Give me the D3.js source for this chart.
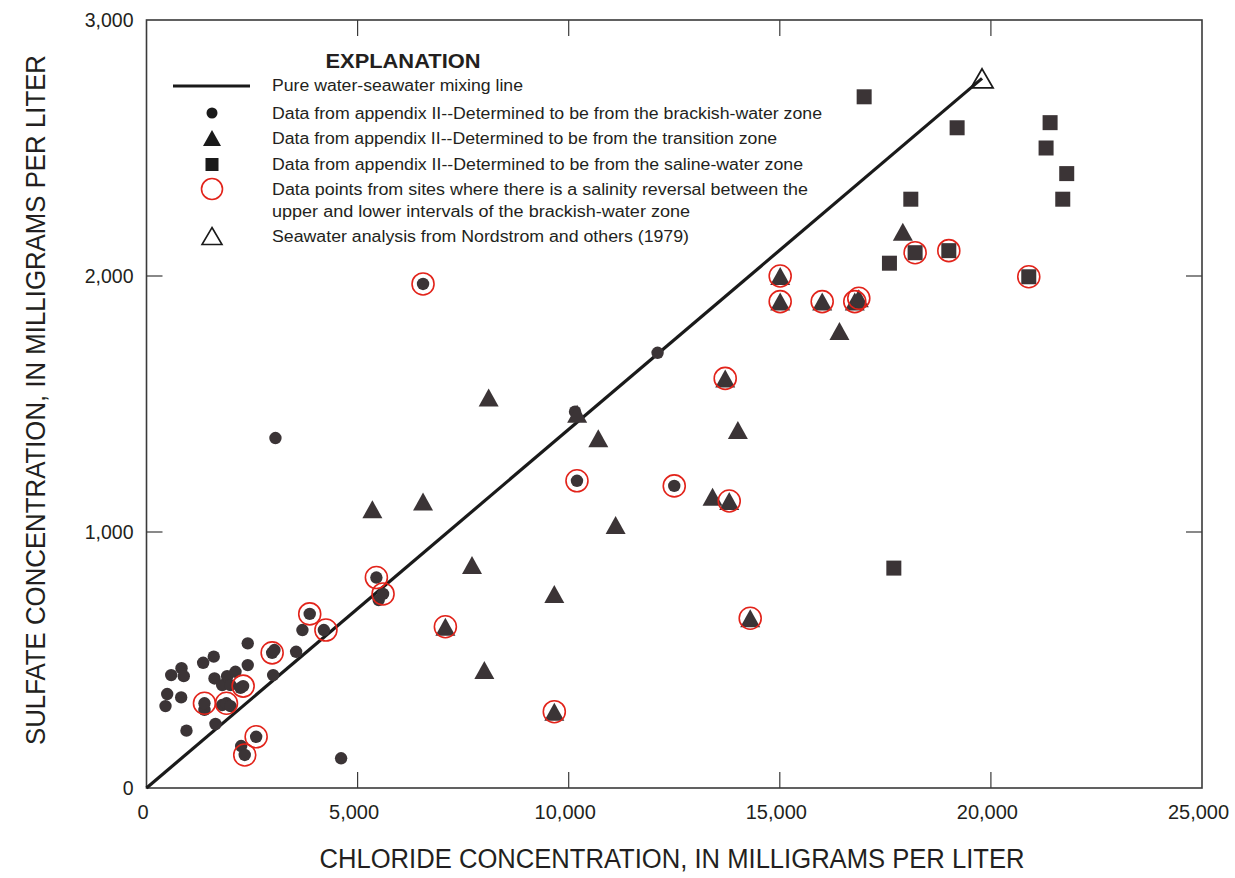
<!DOCTYPE html>
<html>
<head>
<meta charset="utf-8">
<script src="https://cdn.jsdelivr.net/npm/d3@7"></script>
<style>
  body { margin: 0; background: #fff; }
  text { font-family: "Liberation Sans", Arial, sans-serif; fill: #231f20; }
</style>
</head>
<body>
<div id="chart"></div>
<script>
// chloride, sulfate (mg/L)
var brackish = [
  [450,320],[490,367],[585,441],[829,468],[821,354],[883,437],[947,224],
  [1342,489],[1373,305],[1373,331],[1593,513],[1610,428],[1634,250],
  [1792,402],[1792,324],[1894,331],[1910,437],[1989,402],[1989,320],
  [2107,454],[2225,391],[2289,398],[2242,164],[2327,129],[2398,565],
  [2398,480],[2597,200],[2976,528],[3030,539],[3000,441],[3054,1367],
  [3544,532],[3693,617],[3866,680],[4200,617],[4609,116],[5445,822],
  [5500,734],[5603,758],[6550,1969],[10150,1470],[10196,1200],
  [12105,1700],[12500,1180]
];
var transition = [
  [5350,1089],[6550,1119],[7079,630],[7710,871],[8002,461],[8104,1525],
  [9659,758],[9659,298],[10200,1462],[10701,1366],[11111,1027],
  [13407,1138],[13707,1600],[13802,1121],[14007,1398],[14299,663],
  [15009,2000],[15009,1900],[16004,1900],[16413,1785],[16776,1900],
  [16871,1913],[17914,2173]
];
var saline = [
  [16998,2700],[17597,2050],[17701,859],[18103,2300],[18205,2091],
  [19003,2099],[19200,2579],[20897,1997],[21307,2500],[21402,2599],
  [21702,2300],[21796,2400]
];
// sites with a salinity reversal (red circles)
var reversal = [
  [1373,331],[1894,331],[2289,398],[2327,129],[2597,200],[2976,528],
  [3866,680],[4250,617],[5445,822],[5603,758],[6550,1969],[10196,1200],
  [12500,1180],[7079,630],[9659,298],[13707,1600],[13802,1121],
  [14299,663],[15009,2000],[15009,1900],[16004,1900],[16776,1900],
  [16871,1913],[18205,2091],[19003,2099],[20897,1997]
];
var seawater = [19790, 2772];
var xTicks = [0, 5000, 10000, 15000, 20000, 25000];
var yTicks = [0, 1000, 2000, 3000];

var width = 1235, height = 878;
var margin = {left: 146.5, right: 33, top: 20, bottom: 90};
var ink = "#3b3436";

var svg = d3.select("#chart").append("svg")
  .attr("width", width)
  .attr("height", height);

var x = d3.scaleLinear().domain([0, 25000]).range([margin.left, width - margin.right]);
var y = d3.scaleLinear().domain([0, 3000]).range([height - margin.bottom, margin.top]);
var fmt = d3.format(",");

// frame
svg.append("rect")
  .attr("x", x(0)).attr("y", y(3000))
  .attr("width", x(25000) - x(0)).attr("height", y(0) - y(3000))
  .attr("fill", "none").attr("stroke", "#3a3a3a").attr("stroke-width", 1.6);

var inner = xTicks.slice(1, -1);
var innerY = yTicks.slice(1, -1);

var xAxis = svg.append("g")
  .attr("transform", "translate(0," + y(0) + ")")
  .call(d3.axisBottom(x).tickValues(xTicks).tickFormat(fmt).tickSize(0).tickPadding(17));
xAxis.select(".domain").remove();
xAxis.selectAll("text").style("font-size", "20px").attr("dx", "-4");

var yAxis = svg.append("g")
  .attr("transform", "translate(" + x(0) + ",0)")
  .call(d3.axisLeft(y).tickValues(yTicks).tickFormat(fmt).tickSize(0).tickPadding(13));
yAxis.select(".domain").remove();
yAxis.selectAll("text").style("font-size", "19.5px");

// inward tick marks on all four sides
var tl = 16;
function tickLines(vals, fn) {
  svg.append("g").selectAll("line").data(vals).enter().append("line")
    .each(fn)
    .attr("stroke", "#3a3a3a").attr("stroke-width", 1.2);
}
tickLines(inner, function(d) { d3.select(this).attr("x1", x(d)).attr("x2", x(d)).attr("y1", y(0)).attr("y2", y(0) - tl); });
tickLines(inner, function(d) { d3.select(this).attr("x1", x(d)).attr("x2", x(d)).attr("y1", y(3000)).attr("y2", y(3000) + tl); });
tickLines(innerY, function(d) { d3.select(this).attr("y1", y(d)).attr("y2", y(d)).attr("x1", x(0)).attr("x2", x(0) + tl); });
tickLines(innerY, function(d) { d3.select(this).attr("y1", y(d)).attr("y2", y(d)).attr("x1", x(25000)).attr("x2", x(25000) - tl); });

// axis titles
svg.append("text")
  .attr("x", 672).attr("y", 868)
  .attr("text-anchor", "middle")
  .attr("textLength", 705).attr("lengthAdjust", "spacingAndGlyphs")
  .style("font-size", "27px")
  .text("CHLORIDE CONCENTRATION, IN MILLIGRAMS PER LITER");

svg.append("text")
  .attr("transform", "translate(45,400) rotate(-90)")
  .attr("text-anchor", "middle")
  .attr("textLength", 690).attr("lengthAdjust", "spacingAndGlyphs")
  .style("font-size", "27px")
  .text("SULFATE CONCENTRATION, IN MILLIGRAMS PER LITER");

// mixing line
svg.append("line")
  .attr("x1", x(0)).attr("y1", y(0))
  .attr("x2", x(seawater[0])).attr("y2", y(seawater[1]))
  .attr("stroke", "#1a1a1a").attr("stroke-width", 3.2);

function triPath(w, h) {
  return "M0," + (-h / 2) + "L" + (w / 2) + "," + (h / 2) + "L" + (-w / 2) + "," + (h / 2) + "Z";
}

// brackish-water dots
svg.append("g").selectAll("circle").data(brackish).enter().append("circle")
  .attr("cx", function(d) { return x(d[0]); })
  .attr("cy", function(d) { return y(d[1]); })
  .attr("r", 6.2)
  .attr("fill", ink);

// transition zone triangles
svg.append("g").selectAll("path").data(transition).enter().append("path")
  .attr("d", triPath(20, 18))
  .attr("transform", function(d) { return "translate(" + x(d[0]) + "," + y(d[1]) + ")"; })
  .attr("fill", ink);

// saline zone squares
svg.append("g").selectAll("rect").data(saline).enter().append("rect")
  .attr("x", function(d) { return x(d[0]) - 7.5; })
  .attr("y", function(d) { return y(d[1]) - 7.5; })
  .attr("width", 15).attr("height", 15)
  .attr("fill", ink);

// salinity reversal circles
svg.append("g").selectAll("circle").data(reversal).enter().append("circle")
  .attr("cx", function(d) { return x(d[0]); })
  .attr("cy", function(d) { return y(d[1]); })
  .attr("r", 11)
  .attr("fill", "none")
  .attr("stroke", "#e2231a").attr("stroke-width", 1.6);

// seawater
svg.append("path")
  .attr("d", triPath(22, 19))
  .attr("transform", "translate(" + x(seawater[0]) + "," + y(seawater[1]) + ")")
  .attr("fill", "none").attr("stroke", "#1a1a1a").attr("stroke-width", 1.8);

// explanation
var lg = svg.append("g");
lg.append("text")
  .attr("x", 403).attr("y", 68)
  .attr("text-anchor", "middle")
  .attr("textLength", 155).attr("lengthAdjust", "spacingAndGlyphs")
  .style("font-size", "21px").style("font-weight", "bold")
  .text("EXPLANATION");

var sx = 212, tx = 272;
var entries = [
  {y: 85, t: "Pure water-seawater mixing line", w: 251},
  {y: 113, t: "Data from appendix II--Determined to be from the brackish-water zone", w: 550},
  {y: 138, t: "Data from appendix II--Determined to be from the transition zone", w: 505},
  {y: 164, t: "Data from appendix II--Determined to be from the saline-water zone", w: 531},
  {y: 189, t: "Data points from sites where there is a salinity reversal between the", w: 536},
  {y: 211, t: "upper and lower intervals of the brackish-water zone", w: 418},
  {y: 236, t: "Seawater analysis from Nordstrom and others (1979)", w: 417}
];
lg.selectAll(".lt").data(entries).enter().append("text")
  .attr("class", "lt")
  .attr("x", tx).attr("y", function(d) { return d.y; })
  .attr("dy", "0.36em")
  .attr("textLength", function(d) { return d.w; })
  .attr("lengthAdjust", "spacingAndGlyphs")
  .style("font-size", "16px")
  .text(function(d) { return d.t; });

lg.append("line").attr("x1", 173).attr("x2", 250).attr("y1", 86).attr("y2", 86)
  .attr("stroke", "#1a1a1a").attr("stroke-width", 3.2);
lg.append("circle").attr("cx", sx).attr("cy", 113).attr("r", 5.5).attr("fill", "#1a1a1a");
lg.append("path").attr("d", triPath(18, 16)).attr("transform", "translate(" + sx + ",138)").attr("fill", "#1a1a1a");
lg.append("rect").attr("x", sx - 6.5).attr("y", 158).attr("width", 13).attr("height", 13).attr("fill", "#1a1a1a");
lg.append("circle").attr("cx", sx).attr("cy", 189).attr("r", 10.5)
  .attr("fill", "none").attr("stroke", "#e2231a").attr("stroke-width", 1.6);
lg.append("path").attr("d", triPath(20, 17)).attr("transform", "translate(" + sx + ",236)")
  .attr("fill", "none").attr("stroke", "#1a1a1a").attr("stroke-width", 1.6);
</script>
</body>
</html>
